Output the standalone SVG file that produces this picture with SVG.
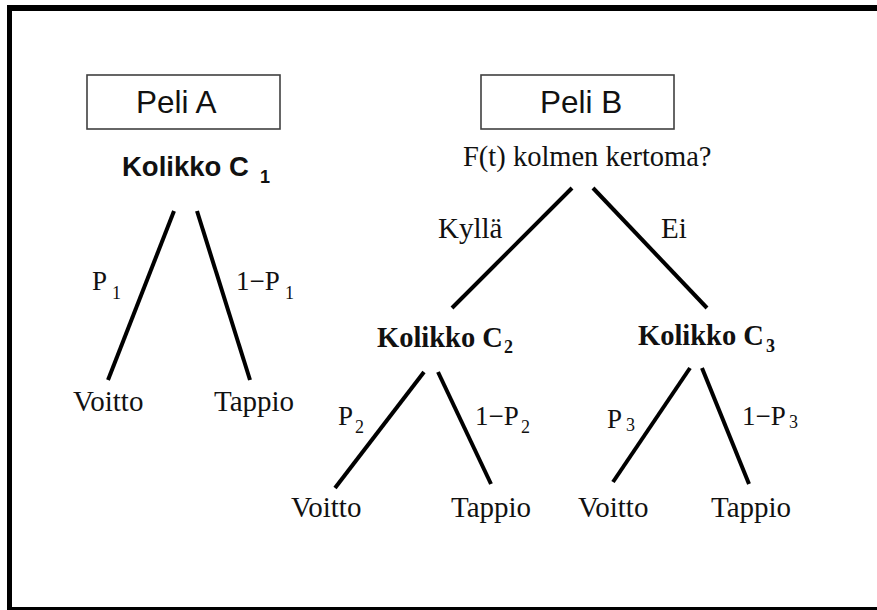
<svg xmlns="http://www.w3.org/2000/svg" width="877" height="610" viewBox="0 0 877 610">
<style>
.box{fill:#fff;stroke:#404040;stroke-width:1.6}
.sans{font-family:"Liberation Sans",Arial,sans-serif;fill:#111}
.serif{font-family:"Liberation Serif","Times New Roman",serif;fill:#111}
.title{font-size:31.5px}
.leaf{font-size:29px}
.lbl{font-size:27px}
.sub{font-size:18px}
.bold{font-weight:bold}
.edge{stroke:#000;stroke-width:4;fill:none;stroke-linecap:butt}
</style>
<rect x="0" y="0" width="877" height="610" fill="#fff"/>
<g id="frame" fill="#000">
<rect x="7" y="5" width="870" height="6"/>
<rect x="7" y="5" width="5" height="605"/>
<rect x="7" y="607" width="870" height="3"/>
</g>
<g id="connectors">
<line class="edge" x1="174" y1="211" x2="108" y2="380"/>
<line class="edge" x1="197" y1="211" x2="250" y2="380"/>
<line class="edge" x1="572" y1="188" x2="452" y2="308"/>
<line class="edge" x1="593" y1="188" x2="707" y2="308"/>
<line class="edge" x1="424" y1="372" x2="335" y2="488"/>
<line class="edge" x1="438" y1="372" x2="491" y2="484"/>
<line class="edge" x1="690" y1="368" x2="613" y2="482"/>
<line class="edge" x1="702" y1="368" x2="749" y2="484"/>
</g>
<g id="edge-labels" class="serif">
<text class="lbl" x="92" y="290">P<tspan class="sub" x="112" y="299">1</tspan></text>
<text class="lbl" x="236" y="290">1−P<tspan class="sub" x="285" y="299">1</tspan></text>
<text class="leaf" x="438" y="238">Kyllä</text>
<text class="leaf" x="661" y="238">Ei</text>
<text class="lbl" x="338" y="425">P<tspan class="sub" x="355" y="433">2</tspan></text>
<text class="lbl" x="475" y="425">1−P<tspan class="sub" x="521" y="433">2</tspan></text>
<text class="lbl" x="607" y="428">P<tspan class="sub" x="626" y="431">3</tspan></text>
<text class="lbl" x="742" y="425">1−P<tspan class="sub" x="789" y="428">3</tspan></text>
</g>
<g id="peli-a">
<rect class="box" x="87" y="75" width="193" height="54"/>
<text class="sans title" x="136" y="113">Peli A</text>
</g>
<g id="peli-b">
<rect class="box" x="481" y="75" width="193" height="54"/>
<text class="sans title" x="540" y="113">Peli B</text>
</g>
<g id="kolikko-c1">
<text class="sans bold" font-size="27.5" x="122" y="176">Kolikko C<tspan class="sub" x="260" y="183">1</tspan></text>
</g>
<g id="question">
<text class="serif" font-size="28.5" x="463" y="166">F(t) kolmen kertoma?</text>
</g>
<g id="kolikko-c2">
<text class="serif bold" font-size="28.5" x="377" y="347">Kolikko C<tspan class="sub" x="504" y="353">2</tspan></text>
</g>
<g id="kolikko-c3">
<text class="serif bold" font-size="28.5" x="638" y="345">Kolikko C<tspan class="sub" x="766" y="352">3</tspan></text>
</g>
<g id="a-voitto"><text class="serif leaf" x="73" y="411">Voitto</text></g>
<g id="a-tappio"><text class="serif leaf" x="214" y="411">Tappio</text></g>
<g id="c2-voitto"><text class="serif leaf" x="291" y="517">Voitto</text></g>
<g id="c2-tappio"><text class="serif leaf" x="451" y="517">Tappio</text></g>
<g id="c3-voitto"><text class="serif leaf" x="578" y="517">Voitto</text></g>
<g id="c3-tappio"><text class="serif leaf" x="711" y="517">Tappio</text></g>
</svg>
